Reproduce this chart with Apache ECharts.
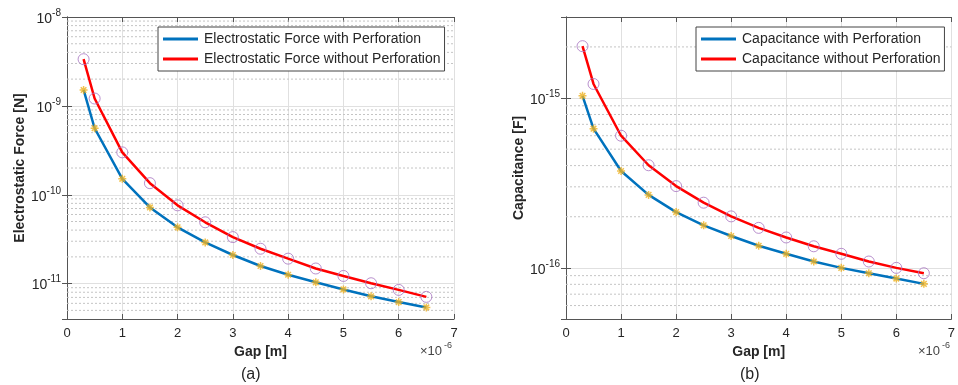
<!DOCTYPE html>
<html>
<head>
<meta charset="utf-8">
<script src="https://cdn.jsdelivr.net/npm/echarts@6/dist/echarts.min.js"></script>
<style>
html,body{margin:0;padding:0;background:#fff;}
#chart{width:958px;height:385px;}
</style>
</head>
<body>
<div id="chart"></div>
<script>
// Gap in units of 1e-6 m
const gap = [0.3, 0.5, 1, 1.5, 2, 2.5, 3, 3.5, 4, 4.5, 5, 5.5, 6, 6.5];
// Electrostatic force [N]
const forceWith = [1.51e-9, 5.6e-10, 1.51e-10, 7.2e-11, 4.3e-11, 2.91e-11, 2.10e-11, 1.58e-11, 1.26e-11, 1.035e-11, 8.6e-12, 7.2e-12, 6.2e-12, 5.4e-12];
const forceWithout = [3.35e-9, 1.21e-9, 3.0e-10, 1.35e-10, 7.6e-11, 4.9e-11, 3.34e-11, 2.47e-11, 1.91e-11, 1.48e-11, 1.22e-11, 1.01e-11, 8.5e-12, 7.1e-12];
// Capacitance [F]
const capWith = [1.03e-15, 6.6e-16, 3.72e-16, 2.69e-16, 2.13e-16, 1.78e-16, 1.54e-16, 1.35e-16, 1.21e-16, 1.09e-16, 1.0e-16, 9.3e-17, 8.65e-17, 8.05e-17];
const capWithout = [2.02e-15, 1.21e-15, 6.0e-16, 4.02e-16, 3.03e-16, 2.42e-16, 2.01e-16, 1.72e-16, 1.51e-16, 1.34e-16, 1.21e-16, 1.09e-16, 1.00e-16, 9.3e-17];
const xTicks = [0, 1, 2, 3, 4, 5, 6, 7];
const forceRange = [4e-12, 1e-8];
const capRange = [5e-17, 3e-15];
const namesA = ['Electrostatic Force with Perforation', 'Electrostatic Force without Perforation'];
const namesB = ['Capacitance with Perforation', 'Capacitance without Perforation'];

const BLUE = '#0072BD', RED = '#FF0000', STAR = '#EDB120', CIRC = '#A774C0';
const AXIS = '#555555', TXT = '#262626';
const FONT = '"Liberation Sans", Arial, sans-serif';
const ASTERISK = 'path://M0,-10L0,10M-10,0L10,0M-7,-7L7,7M-7,7L7,-7';

function pairs(xs, ys) { return xs.map((x, i) => [x, ys[i]]); }

// dotted minor grid (2..9 x 10^k) as broken line segments across the x range
function minorGrid(range) {
  const out = [];
  const e0 = Math.floor(Math.log10(range[0])), e1 = Math.ceil(Math.log10(range[1]));
  for (let e = e0; e <= e1; e++) {
    for (let m = 2; m <= 9; m++) {
      const v = m * Math.pow(10, e);
      if (v > range[0] * 1.001 && v < range[1] * 0.999) {
        out.push([xTicks[0], v], [xTicks[xTicks.length - 1], v], [xTicks[xTicks.length - 1], '-']);
      }
    }
  }
  return out;
}

function powLabel(v) {
  const e = Math.log10(v);
  const r = Math.round(e);
  if (Math.abs(e - r) > 1e-6) return '';
  return '{b|10}{s|' + r + '}';
}

const richLbl = {
  b: { fontSize: 14, color: TXT, fontFamily: FONT, lineHeight: 18, verticalAlign: 'bottom' },
  s: { fontSize: 10, color: TXT, fontFamily: FONT, lineHeight: 18, verticalAlign: 'top', padding: [0, 0, 8, 0] }
};

function makeAxes(gi, range, yName, nameGap) {
  const xa = [
    { type: 'value', gridIndex: gi, min: 0, max: 7, interval: 1, position: 'bottom',
      name: 'Gap [m]', nameLocation: 'middle', nameGap: 25,
      nameTextStyle: { fontSize: 14, fontWeight: 'bold', color: TXT, fontFamily: FONT },
      axisLine: { show: true, lineStyle: { color: AXIS, width: 1 } },
      axisTick: { show: true, inside: true, length: 5, lineStyle: { color: AXIS } },
      axisLabel: { fontSize: 13, color: TXT, fontFamily: FONT, margin: 8, formatter: v => String(v) },
      splitLine: { show: true, lineStyle: { color: '#e0e0e0', width: 1 } } },
    { type: 'value', gridIndex: gi, min: 0, max: 7, interval: 1, position: 'top',
      axisLine: { show: true, lineStyle: { color: AXIS, width: 1 } },
      axisTick: { show: true, inside: true, length: 5, lineStyle: { color: AXIS } },
      axisLabel: { show: false }, splitLine: { show: false } }
  ];
  const ya = [
    { type: 'log', logBase: 10, gridIndex: gi, min: range[0], max: range[1], position: 'left',
      name: yName, nameLocation: 'middle', nameGap: nameGap, nameRotate: 90,
      nameTextStyle: { fontSize: 14, fontWeight: 'bold', color: TXT, fontFamily: FONT },
      axisLine: { show: true, lineStyle: { color: AXIS, width: 1 } },
      axisTick: { show: true, inside: true, length: 5, lineStyle: { color: AXIS } },
      axisLabel: { margin: 6, formatter: powLabel, rich: richLbl },
      splitLine: { show: true, lineStyle: { color: '#e0e0e0', width: 1 } } },
    { type: 'log', logBase: 10, gridIndex: gi, min: range[0], max: range[1], position: 'right',
      axisLine: { show: true, lineStyle: { color: AXIS, width: 1 } },
      axisTick: { show: true, inside: true, length: 5, lineStyle: { color: AXIS } },
      axisLabel: { show: false }, splitLine: { show: false } }
  ];
  return { xa, ya };
}

const A = makeAxes(0, forceRange, 'Electrostatic Force [N]', 37);
const B = makeAxes(1, capRange, 'Capacitance [F]', 38);

function gridSeries(xi, yi, range) {
  return { type: 'line', name: 'minor', xAxisIndex: xi, yAxisIndex: yi, data: minorGrid(range),
    showSymbol: false, symbol: 'none', connectNulls: false, silent: true, z: 1, animation: false,
    lineStyle: { color: '#c4c4c4', type: [2, 2], width: 1 }, emphasis: { disabled: true }, tooltip: { show: false } };
}
function lineSeries(name, xi, yi, data, color) {
  return { type: 'line', name, xAxisIndex: xi, yAxisIndex: yi, data, showSymbol: false, symbol: 'none',
    lineStyle: { color, width: 2.5 }, itemStyle: { color }, smooth: false, z: 3, animation: false };
}
function markerSeries(name, xi, yi, data, kind) {
  if (kind === 'star') {
    return { type: 'scatter', name, xAxisIndex: xi, yAxisIndex: yi, data, symbol: ASTERISK, symbolSize: 8,
      itemStyle: { color: 'rgba(0,0,0,0)', borderColor: STAR, borderWidth: 1.5 }, z: 5, animation: false };
  }
  return { type: 'scatter', name, xAxisIndex: xi, yAxisIndex: yi, data, symbol: 'circle', symbolSize: 11,
    itemStyle: { color: 'rgba(0,0,0,0)', borderColor: CIRC, borderWidth: 1 }, z: 5, animation: false };
}

function legend(left, names) {
  return { orient: 'vertical', left, top: 27, data: names, icon: 'rect', itemWidth: 35, itemHeight: 3,
    itemGap: 4, padding: [4, 4, 4, 5], backgroundColor: '#fff', borderColor: '#444', borderWidth: 1,
    borderRadius: 0, textStyle: { fontSize: 14, lineHeight: 16, color: TXT, fontFamily: FONT, padding: [0, 0, 0, 1] },
    selectedMode: false };
}

const option = {
  backgroundColor: '#fff',
  animation: false,
  grid: [
    { left: 67, right: 504, top: 17, bottom: 66 },
    { left: 566, right: 6, top: 17, bottom: 66 }
  ],
  xAxis: [A.xa[0], A.xa[1], Object.assign({}, B.xa[0], { gridIndex: 1 }), Object.assign({}, B.xa[1], { gridIndex: 1 })],
  yAxis: [A.ya[0], A.ya[1], B.ya[0], B.ya[1]],
  legend: [legend(158, namesA), legend(696, namesB)],
  series: [
    gridSeries(0, 0, forceRange),
    lineSeries(namesA[0], 0, 0, pairs(gap, forceWith), BLUE),
    lineSeries(namesA[1], 0, 0, pairs(gap, forceWithout), RED),
    markerSeries('mA0', 0, 0, pairs(gap, forceWith), 'star'),
    markerSeries('mA1', 0, 0, pairs(gap, forceWithout), 'circ'),
    gridSeries(2, 2, capRange),
    lineSeries(namesB[0], 2, 2, pairs(gap, capWith), BLUE),
    lineSeries(namesB[1], 2, 2, pairs(gap, capWithout), RED),
    markerSeries('mB0', 2, 2, pairs(gap, capWith), 'star'),
    markerSeries('mB1', 2, 2, pairs(gap, capWithout), 'circ')
  ],
  graphic: [
    { type: 'text', left: 420, top: 345, style: { text: '×10', fontSize: 13, fill: '#444', fontFamily: FONT } },
    { type: 'text', left: 444, top: 341, style: { text: '-6', fontSize: 9, fill: '#444', fontFamily: FONT } },
    { type: 'text', left: 918, top: 345, style: { text: '×10', fontSize: 13, fill: '#444', fontFamily: FONT } },
    { type: 'text', left: 942, top: 341, style: { text: '-6', fontSize: 9, fill: '#444', fontFamily: FONT } },
    { type: 'text', left: 241, top: 367, style: { text: '(a)', fontSize: 16, fill: TXT, fontFamily: FONT } },
    { type: 'text', left: 740, top: 367, style: { text: '(b)', fontSize: 16, fill: TXT, fontFamily: FONT } }
  ]
};

const chart = echarts.init(document.getElementById('chart'), null, { renderer: 'canvas' });
chart.setOption(option);
</script>
</body>
</html>
